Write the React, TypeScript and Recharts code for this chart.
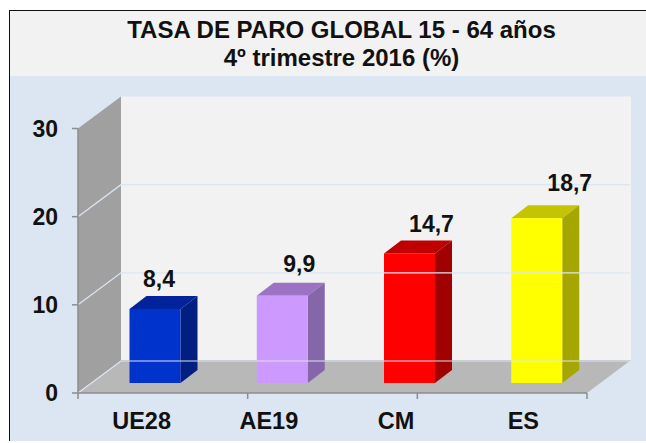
import { Bar, BarChart, Cell, LabelList, ReferenceArea, ReferenceLine, XAxis, YAxis } from 'recharts';

const categories = ['UE28', 'AE19', 'CM', 'ES'];
const values = [8.4, 9.9, 14.7, 18.7];
const yTicks = [0, 10, 20, 30];
const wallLines = [0, 10, 20];
const edgeTicks = [0, 1, 2, 3, 4];
const frontColors = ['#0033cc', '#cc99ff', '#ff0000', '#ffff00'];
const topColors = ['#00229a', '#9b72c4', '#c00000', '#c4c400'];
const sideColors = ['#001f80', '#8566a8', '#a00000', '#a6a600'];
// the labels in the original were moved by hand
const labelDx = [4, 17, 22, 33];
const labelDy = [30, 32, 29, 35];

const data = categories.map((name, i) => ({ name, value: values[i] }));

const FONT = '"Liberation Sans", Arial, sans-serif';
const DEPTH_X = 43;
const DEPTH_Y = 32;
const BAR_DX = 13.5;
const BAR_DY = 10;
const SIDE_X = 17;
const SIDE_Y = 13;

function Walls({ x, y, width, height }: any) {
  const bottom = y + height;
  const right = x + width;
  return (
    <g>
      <rect x={x + DEPTH_X} y={y - DEPTH_Y} width={width + 1} height={height - 1} fill="#f2f2f2" />
      <polygon
        points={`${x},${y} ${x + DEPTH_X},${y - DEPTH_Y} ${x + DEPTH_X},${bottom - DEPTH_Y} ${x},${bottom}`}
        fill="#a0a0a0"
      />
      <polygon
        points={`${x},${bottom} ${right},${bottom} ${right + DEPTH_X + 1},${bottom - DEPTH_Y - 1} ${x + DEPTH_X},${bottom - DEPTH_Y - 1}`}
        fill="#b8b8b8"
      />
    </g>
  );
}

function WallLine({ x1, y1, x2 }: any) {
  return (
    <path
      d={`M${x1},${y1} L${x1 + DEPTH_X},${y1 - DEPTH_Y} L${x2 + DEPTH_X},${y1 - DEPTH_Y}`}
      fill="none"
      stroke="#dce6f2"
      strokeWidth={1.2}
    />
  );
}

function Bar3D({ x, y, width, height, index }: any) {
  const left = x + BAR_DX;
  const right = left + width;
  const top = y - BAR_DY;
  const bottom = y + height - BAR_DY;
  return (
    <g>
      <polygon
        points={`${left},${top} ${left + SIDE_X},${top - SIDE_Y} ${right + SIDE_X},${top - SIDE_Y} ${right},${top}`}
        fill={topColors[index]}
      />
      <polygon
        points={`${right},${top} ${right + SIDE_X},${top - SIDE_Y} ${right + SIDE_X},${bottom - SIDE_Y} ${right},${bottom}`}
        fill={sideColors[index]}
      />
      <rect x={left} y={top} width={width} height={height} fill={frontColors[index]} />
    </g>
  );
}

function ValueLabel({ x, y, width, value, index }: any) {
  return (
    <text
      x={x + BAR_DX + width / 2 + labelDx[index]}
      y={y - BAR_DY - labelDy[index]}
      textAnchor="middle"
      dominantBaseline="central"
      fontFamily={FONT}
      fontSize={23}
      fontWeight="bold"
      fill="#111"
    >
      {String(value).replace('.', ',')}
    </text>
  );
}

export default function App() {
  return (
    <div style={{ position: 'absolute', left: 0, top: 0, width: 646, height: 443, overflow: 'hidden', background: '#fff' }}>
      <div
        style={{
          position: 'absolute',
          left: 9,
          top: 10,
          width: 637,
          height: 431,
          boxSizing: 'border-box',
          borderTop: '1px solid #111',
          borderLeft: '1px solid #111',
          background: '#dce6f2',
        }}
      />
      <div
        style={{
          position: 'absolute',
          left: 10,
          top: 11,
          width: 636,
          height: 65,
          background: '#f2f2f2',
          color: '#111',
          fontFamily: FONT,
          fontSize: 24,
          fontWeight: 'bold',
          lineHeight: '28px',
          textAlign: 'center',
          paddingTop: 5,
          paddingLeft: 27,
          boxSizing: 'border-box',
        }}
      >
        <div>TASA DE PARO GLOBAL 15 - 64 años</div>
        <div>4º trimestre 2016 (%)</div>
      </div>
      <div style={{ position: 'absolute', left: 0, top: 0 }}>
        <BarChart
          width={646}
          height={443}
          data={data}
          margin={{ top: 128.5, right: 59, bottom: 0, left: 0 }}
          barSize={51}
        >
          <XAxis
            type="number"
            domain={[0, 4]}
            ticks={edgeTicks}
            height={1}
            tickSize={6}
            tickFormatter={() => ''}
            stroke="#8c8c8c"
            strokeWidth={1.5}
          />
          <XAxis
            xAxisId="cat"
            dataKey="name"
            height={49}
            axisLine={false}
            tickLine={false}
            tickMargin={12}
            tick={{ fontFamily: FONT, fontSize: 23.5, fontWeight: 'bold', fill: '#111' }}
          />
          <YAxis
            width={78}
            domain={[0, 30]}
            ticks={yTicks}
            tickSize={6}
            tickMargin={14}
            stroke="#8c8c8c"
            strokeWidth={1.5}
            tick={{ fontFamily: FONT, fontSize: 23, fontWeight: 'bold', fill: '#111' }}
          />
          <ReferenceArea y1={0} y2={30} shape={Walls} />
          {wallLines.map((v) => (
            <ReferenceLine key={v} y={v} shape={WallLine} />
          ))}
          <Bar xAxisId="cat" dataKey="value" shape={Bar3D} isAnimationActive={false}>
            {data.map((d, i) => (
              <Cell key={d.name} fill={frontColors[i]} />
            ))}
            <LabelList dataKey="value" content={ValueLabel} />
          </Bar>
        </BarChart>
      </div>
    </div>
  );
}
